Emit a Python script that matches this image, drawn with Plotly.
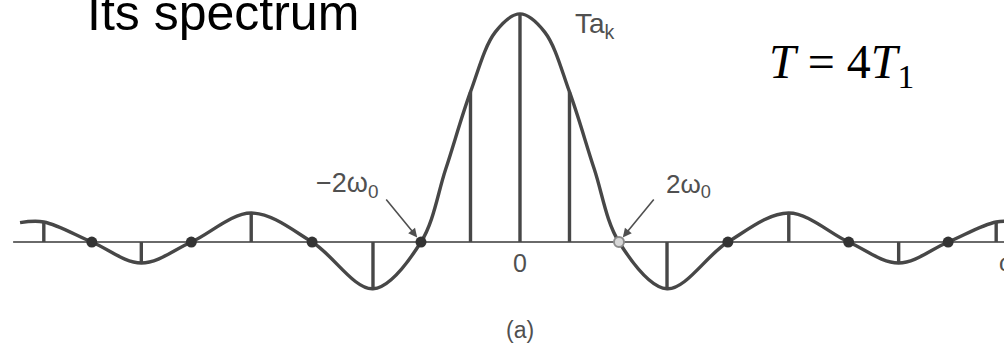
import plotly.graph_objects as go

# Line spectrum of the periodic square wave with T = 4*T1
# Sample positions along the omega axis, in units of omega_0 (as sketched)
omega_k = [-9.62, -8.65, -7.65, -6.64, -5.43, -4.2, -2.97, -2.0, -1.0, 0.0,
           1.0, 2.0, 2.97, 4.2, 5.43, 6.64, 7.65, 8.65, 9.62]
# Normalised coefficients T*a_k (peak = 1)
ta_k = [0.088, 0.0, -0.092, 0.0, 0.127, 0.0, -0.205, 0.0, 0.658, 1.0,
        0.658, 0.0, -0.205, 0.0, 0.127, 0.0, -0.092, 0.0, 0.088]

# Continuous envelope through the samples
env_omega = [-10.1, -9.62, -8.65, -7.65, -6.64, -5.43, -4.2, -2.97, -2.0, -1.5,
             -1.0, -0.5, 0.0, 0.5, 1.0, 1.5, 2.0, 2.97, 4.2, 5.43, 6.64, 7.65,
             8.65, 9.62, 10.1]
env_val = [0.085, 0.088, 0.0, -0.092, 0.0, 0.127, 0.0, -0.205, 0.0, 0.32,
           0.658, 0.92, 1.0, 0.92, 0.658, 0.32, 0.0, -0.205, 0.0, 0.127, 0.0,
           -0.092, 0.0, 0.088, 0.085]

axis_start, axis_end = -10.24, 10.5

ink = "#474747"
label_col = "#505050"

fig = go.Figure()

# horizontal omega axis
fig.add_trace(go.Scatter(x=[axis_start, axis_end], y=[0, 0], mode="lines",
                         line=dict(color="#6a6a6a", width=2), hoverinfo="skip"))

# envelope
fig.add_trace(go.Scatter(x=env_omega, y=env_val, mode="lines",
                         line=dict(color=ink, width=3.4, shape="spline", smoothing=1.0),
                         hoverinfo="skip"))

# stems at the non-zero coefficients
sx, sy = [], []
for w, v in zip(omega_k, ta_k):
    if v != 0:
        sx += [w, w, None]
        sy += [0, v, None]
fig.add_trace(go.Scatter(x=sx, y=sy, mode="lines",
                         line=dict(color=ink, width=3.4), hoverinfo="skip"))

# zero crossings (dots)
zx = [w for w, v in zip(omega_k, ta_k) if v == 0 and w != 2.0]
zy = [0] * len(zx)
fig.add_trace(go.Scatter(x=zx, y=zy, mode="markers",
                         marker=dict(color="#333333", size=11), hoverinfo="skip"))
fig.add_trace(go.Scatter(x=[2.0], y=[0], mode="markers",
                         marker=dict(color="#d8d8d8", size=10,
                                     line=dict(color="#8c8c8c", width=2)),
                         hoverinfo="skip"))


def lbl(size):
    return dict(family="Liberation Sans, Arial, sans-serif", size=size, color=label_col)


annotations = [
    dict(x=-3.5, y=0.25, text="\u22122\u03c9<sub>0</sub>", showarrow=False,
         font=lbl(27)),
    dict(x=3.41, y=0.25, text="2\u03c9<sub>0</sub>", showarrow=False, font=lbl(26)),
    dict(x=1.07, y=0.95, text="Ta<sub>k</sub>", showarrow=False, font=lbl(28),
         xanchor="left"),
    dict(x=0, y=-0.092, text="0", showarrow=False, font=lbl(25)),
    dict(x=0, y=-0.386, text="(a)", showarrow=False, font=lbl(23)),
    dict(x=9.64, y=-0.088, text="\u03c9", showarrow=False, font=lbl(24), xanchor="left"),
    # arrows pointing at the +/- 2 omega_0 zeros
    dict(x=-2.0, y=0, text="", showarrow=True, ax=-36, ay=-44, standoff=6,
         arrowhead=2, arrowsize=1.1, arrowwidth=1.6, arrowcolor=label_col),
    dict(x=2.0, y=0, text="", showarrow=True, ax=36, ay=-44, standoff=6,
         arrowhead=2, arrowsize=1.1, arrowwidth=1.6, arrowcolor=label_col),
    # headings
    dict(xref="paper", yref="paper", x=85 / 1004, y=1 - 13 / 344, xanchor="left",
         yanchor="middle", text="Its spectrum", showarrow=False,
         font=dict(family="Liberation Sans, Arial, sans-serif", size=50, color="#000000")),
    dict(xref="paper", yref="paper", x=767 / 1004, y=1 - 65 / 344, xanchor="left",
         yanchor="middle", text="<i>T</i> = 4<i>T</i><sub>1</sub>", showarrow=False,
         font=dict(family="Liberation Serif, Times New Roman, serif", size=48,
                   color="#000000")),
]

fig.update_layout(
    width=1004, height=344,
    margin=dict(l=0, r=0, t=0, b=0),
    paper_bgcolor="white", plot_bgcolor="white",
    showlegend=False,
    xaxis=dict(range=[-10.505, 9.778], visible=False, fixedrange=True),
    yaxis=dict(range=[-0.447, 1.061], visible=False, fixedrange=True),
    annotations=annotations,
)

fig.write_html("out.html")
